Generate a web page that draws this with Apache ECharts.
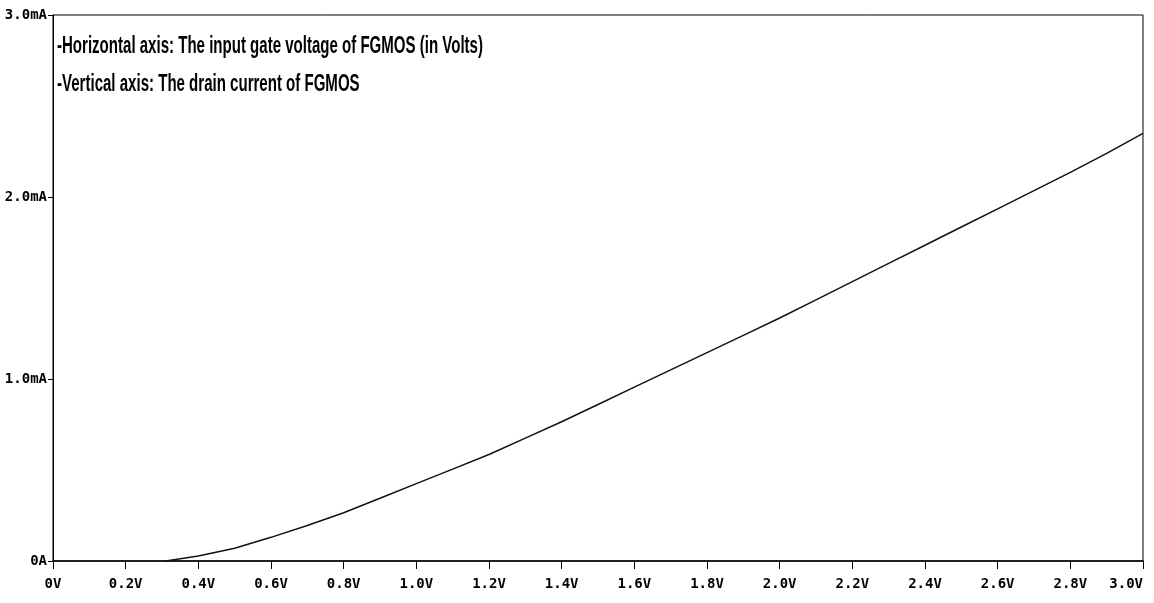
<!DOCTYPE html>
<html>
<head>
<meta charset="utf-8">
<script src="https://cdn.jsdelivr.net/npm/echarts@6/dist/echarts.min.js"></script>
<style>
    html, body { margin: 0; padding: 0; background: #fff; }
    #chart { width: 1154px; height: 603px; }
</style>
</head>
<body>
<div id="chart"></div>
<script>
// 栅压 (V)
var vg = [0.31, 0.4, 0.5, 0.6, 0.7, 0.8, 0.9, 1.0, 1.1, 1.2, 1.3, 1.4, 1.5, 1.6, 1.7,
          1.8, 1.9, 2.0, 2.1, 2.2, 2.3, 2.4, 2.5, 2.6, 2.7, 2.8, 2.9, 3.0];
// 漏极电流 (mA)
var id = [0, 0.028, 0.07, 0.13, 0.195, 0.265, 0.345, 0.425, 0.505, 0.585, 0.675, 0.765, 0.86, 0.955, 1.05,
          1.145, 1.24, 1.335, 1.435, 1.535, 1.635, 1.735, 1.835, 1.935, 2.035, 2.135, 2.24, 2.35];
// 说明文字
var notes = ['-Horizontal axis: The input gate voltage of FGMOS (in Volts)',
             '-Vertical axis: The drain current of FGMOS'];

var tickFont = {
    color: '#000',
    fontFamily: 'DejaVu Sans Mono',
    fontWeight: 'bold',
    fontSize: 14
};
var noteFont = 'bold 23px "Liberation Sans"';

function load_line(elementId){
    var points = vg.map(function (v, i) { return [v, id[i]]; });
    // 文字横向压缩 (参考图里是窄字体)
    var ctx = document.createElement('canvas').getContext('2d');
    ctx.font = noteFont;
    var sx = 426 / ctx.measureText(notes[0]).width;

    var option = {
        animation: false,
        grid: {
            left: 53,
            right: 11,
            top: 15,
            bottom: 42,
            outerBoundsMode: 'none',
            show: true,
            borderColor: '#000',
            borderWidth: 1
        },
        xAxis: {
            type: 'value',
            min: 0,
            max: 3,
            interval: 0.2,
            axisLine: { lineStyle: { color: '#000', width: 1.5 } },
            axisTick: { show: true, inside: false, length: 8, lineStyle: { color: '#000' } },
            splitLine: { show: false },
            axisLabel: Object.assign({
                margin: 16,
                alignMaxLabel: 'right',
                formatter: function (v) { return v === 0 ? '0V' : v.toFixed(1) + 'V'; }
            }, tickFont)
        },
        yAxis: {
            type: 'value',
            min: 0,
            max: 3,
            interval: 1,
            axisLine: { show: true, lineStyle: { color: '#000', width: 1 } },
            axisTick: { show: true, length: 5, lineStyle: { color: '#000' } },
            splitLine: { show: false },
            axisLabel: Object.assign({
                margin: 6,
                formatter: function (v) { return v === 0 ? '0A' : v.toFixed(1) + 'mA'; }
            }, tickFont)
        },
        graphic: notes.map(function (t, i) {
            return {
                type: 'text',
                x: 57,
                y: 35 + i * 38,
                scaleX: sx,
                style: {
                    text: t,
                    fill: '#000',
                    font: noteFont,
                    verticalAlign: 'top'
                }
            };
        }),
        series: [{
            type: 'line',
            data: points,
            showSymbol: false,
            lineStyle: { color: '#111', width: 1.5 }
        }]
    };
    var myChart = echarts.init(document.getElementById(elementId));
    myChart.setOption(option, true);
}

load_line('chart');
</script>
</body>
</html>
